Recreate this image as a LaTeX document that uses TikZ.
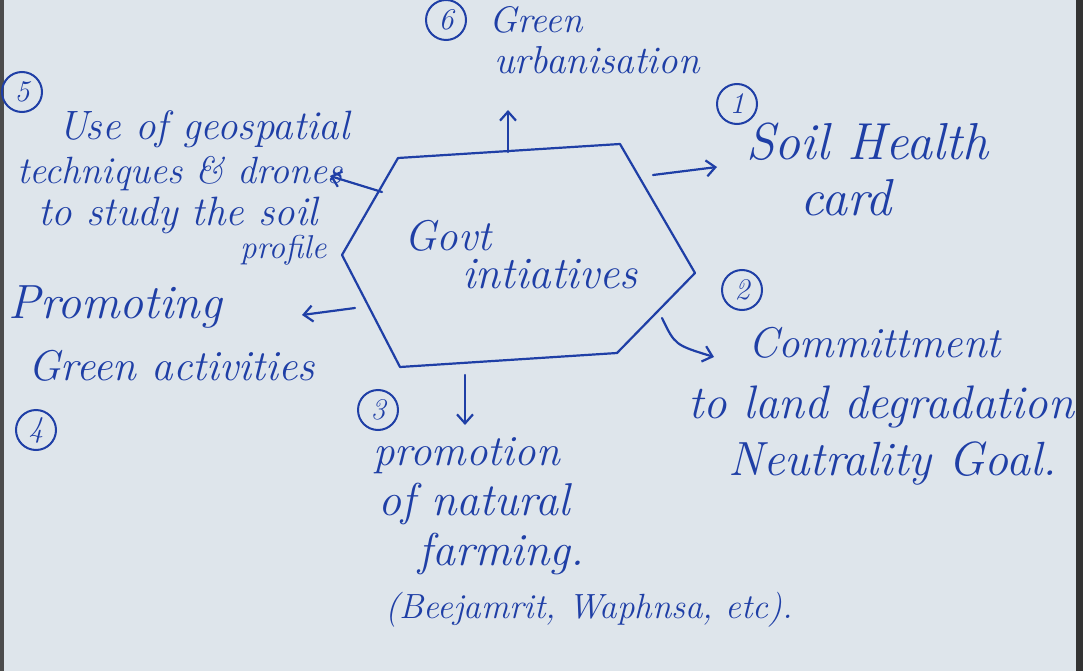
\documentclass[tikz,border=0pt]{standalone}
\usetikzlibrary{arrows.meta}
\definecolor{ink}{HTML}{1F3FA6}
\definecolor{paper}{HTML}{DEE5EB}
\begin{document}
\begin{tikzpicture}[x=1pt,y=-1pt,
  ink/.style={draw=ink,line width=2.2pt,line cap=round,line join=round},
  arr/.style={ink,-{Straight Barb[length=9pt,width=16pt,line width=2.2pt]}},
  txt/.style={text=ink,anchor=base west,inner sep=0pt,font=\fontsize{#1}{#1}\selectfont\itshape},
  txt/.default=37,
  num/.style={draw=ink,line width=2pt,circle,inner sep=0pt,minimum size=40pt,text=ink,font=\fontsize{30}{30}\selectfont\itshape}]
\fill[paper] (0,0) rectangle (1083,671);
\fill[black!80] (1076,0) rectangle (1083,671);
\fill[black!70] (0,0) rectangle (4,671);
\useasboundingbox (0,0) rectangle (1083,671);
% hexagon
\coordinate (hTL) at (398,158);
\coordinate (hTR) at (620,144);
\coordinate (hR) at (695,273);
\coordinate (hBR) at (617,353);
\coordinate (hBL) at (400,367);
\coordinate (hL) at (342,255);
\draw[ink] (hTL) -- (hTR) -- (hR) -- (hBR) -- (hBL) -- (hL) -- cycle;
\node[txt=43] (govt) at (404,250) {Govt};
\node[txt=45] (init) at (462,288) {intiatives};
% 6
\node[num] (c6) at (446,20) {6};
\node[txt=37] (t6a) at (489,33) {Green};
\node[txt=39] (t6b) at (494,74) {urbanisation};
% 1
\node[num] (c1) at (737,104) {1};
\node[txt=52] (t1a) at (746,160) {Soil Health};
\node[txt=52] (t1b) at (800,215) {card};
% 2
\node[num] (c2) at (742,290) {2};
\node[txt=43] (t2a) at (748,357) {Committment};
\node[txt=47] (t2b) at (688,418) {to land degradation};
\node[txt=48] (t2c) at (728,475) {Neutrality Goal.};
% 3
\node[num] (c3) at (378,410) {3};
\node[txt=43] (t3a) at (373,465) {promotion};
\node[txt=46] (t3b) at (378,515) {of natural};
\node[txt=46] (t3c) at (418,565) {farming.};
\node[txt=35] (t3d) at (385,618) {(Beejamrit, Waphnsa, etc).};
% 4
\node[num] (c4) at (36,430) {4};
\node[txt=48] (t4a) at (8,318) {Promoting};
\node[txt=43] (t4b) at (28,380) {Green activities};
% 5
\node[num] (c5) at (22,92) {5};
\node[txt=41] (t5a) at (58,140) {Use of geospatial};
\node[txt=38] (t5b) at (17,183) {techniques \& drones};
\node[txt=41] (t5c) at (38,225) {to study the soil};
\node[txt=33] (t5d) at (240,258) {profile};
% arrows
\coordinate (a6s) at (508,152);
\coordinate (a6e) at (508,110);
\draw[arr] (a6s) -- (a6e);
\coordinate (a1s) at (653,175);
\coordinate (a1e) at (717,167);
\draw[arr] (a1s) -- (a1e);
\coordinate (a5s) at (382,192);
\coordinate (a5e) at (330,176);
\draw[arr] (a5s) -- (a5e);
\coordinate (a4s) at (355,308);
\coordinate (a4e) at (302,315);
\draw[arr] (a4s) -- (a4e);
\coordinate (a2s) at (662,318);
\coordinate (a2e) at (714,357);
\draw[arr] (a2s) .. controls (675,345) .. (a2e);
\coordinate (a3s) at (465,375);
\coordinate (a3e) at (465,425);
\draw[arr] (a3s) -- (a3e);
\end{tikzpicture}
\end{document}
